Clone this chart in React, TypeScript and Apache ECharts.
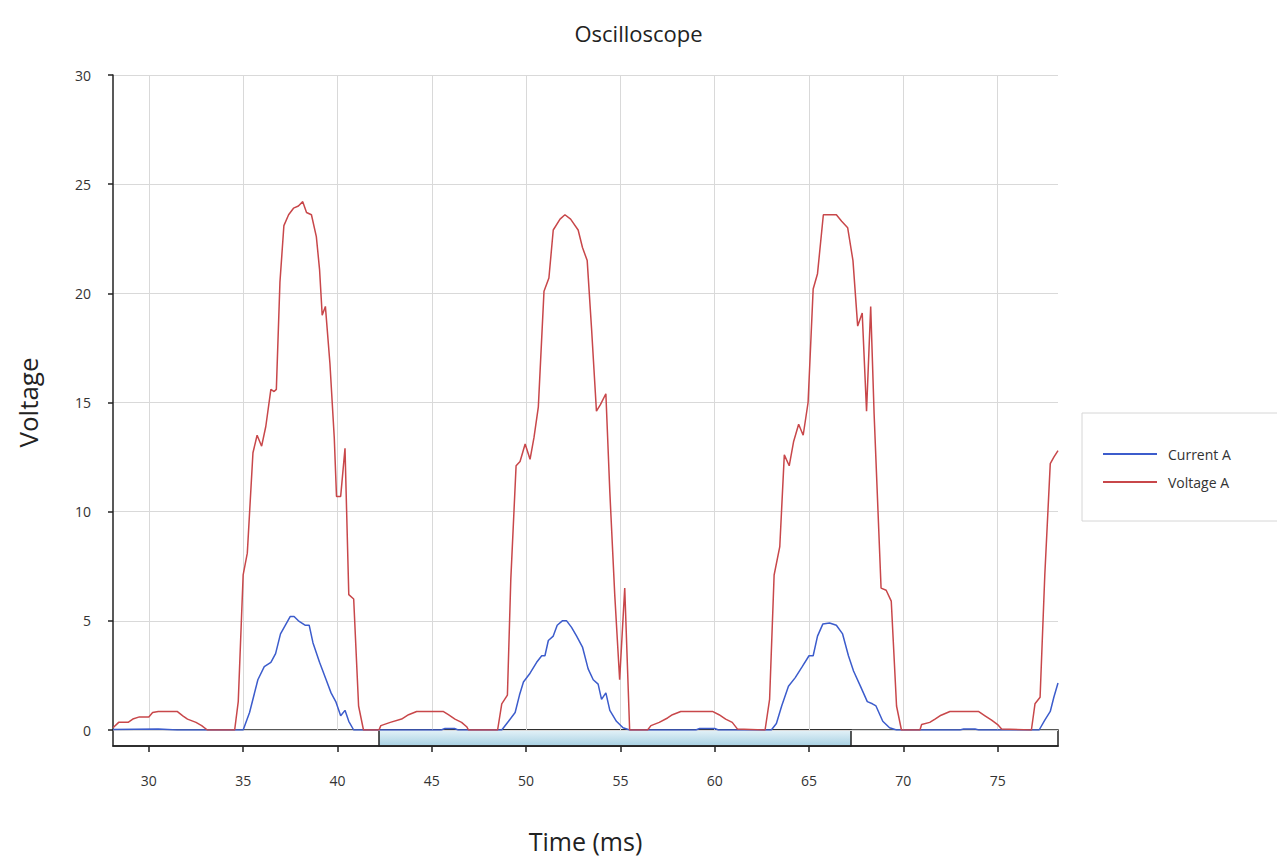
import React, { useEffect, useRef } from "react";
import * as echarts from "echarts";

// Time (ms) / value pairs
const voltageTime = [
  28.1, 28.4, 28.9, 29.15, 29.5, 30.0, 30.2, 30.5, 31.5, 31.8, 32.05, 32.5, 32.8, 33.1,
  34.55, 34.74, 35.0, 35.22, 35.52, 35.74, 35.98, 36.2, 36.47, 36.64, 36.76, 36.95, 37.16, 37.41,
  37.67, 37.93, 38.16, 38.36, 38.62, 38.88, 39.05, 39.19, 39.36, 39.6, 39.83, 39.95, 40.17, 40.4,
  40.6, 40.86, 41.12, 41.38,
  42.2, 42.3, 42.8, 43.4, 43.77, 44.2, 45.6, 45.88, 46.23, 46.58, 46.85, 46.95,
  48.49, 48.71, 49.01, 49.19, 49.47, 49.68, 49.95, 50.21, 50.42, 50.65, 50.95, 51.21, 51.44, 51.8,
  52.06, 52.36, 52.76, 52.99, 53.24, 53.47, 53.73, 53.94, 54.23, 54.44, 54.7, 54.96, 55.23, 55.49,
  56.44, 56.62, 57.06, 57.5, 57.76, 58.2, 59.88, 60.23, 60.58, 60.93, 61.2,
  62.67, 62.91, 63.15, 63.45, 63.69, 63.95, 64.18, 64.45, 64.69, 64.95, 65.22, 65.45, 65.76, 66.45,
  66.73, 67.05, 67.33, 67.58, 67.82, 68.05, 68.27, 68.45, 68.82, 69.09, 69.36, 69.64, 69.9,
  70.88, 70.97, 71.4, 71.68, 71.94, 72.47, 73.98, 74.33, 74.68, 75.0, 75.21,
  76.79, 76.98, 77.25, 77.5, 77.79, 77.98, 78.2,
];
const voltageValue = [
  0.1, 0.35, 0.35, 0.5, 0.6, 0.6, 0.8, 0.85, 0.85, 0.65, 0.5, 0.35, 0.2, 0.0,
  0.0, 1.3, 7.1, 8.1, 12.7, 13.5, 13.0, 13.9, 15.6, 15.5, 15.6, 20.5, 23.1, 23.6,
  23.9, 24.0, 24.2, 23.7, 23.6, 22.6, 21.1, 19.0, 19.4, 16.8, 13.4, 10.7, 10.7, 12.9,
  6.2, 6.0, 1.1, 0.0,
  0.0, 0.2, 0.35, 0.5, 0.7, 0.85, 0.85, 0.7, 0.5, 0.35, 0.15, 0.0,
  0.0, 1.2, 1.6, 6.9, 12.1, 12.3, 13.1, 12.4, 13.4, 14.8, 20.1, 20.7, 22.9, 23.4,
  23.6, 23.4, 22.9, 22.1, 21.5, 18.4, 14.6, 14.9, 15.4, 10.9, 6.2, 2.3, 6.5, 0.0,
  0.0, 0.2, 0.35, 0.55, 0.7, 0.85, 0.85, 0.7, 0.5, 0.35, 0.05,
  0.0, 1.4, 7.1, 8.4, 12.6, 12.1, 13.2, 14.0, 13.5, 15.0, 20.2, 20.9, 23.6, 23.6,
  23.3, 23.0, 21.5, 18.5, 19.1, 14.6, 19.4, 14.5, 6.5, 6.4, 5.9, 1.1, 0.0,
  0.0, 0.25, 0.35, 0.5, 0.65, 0.85, 0.85, 0.65, 0.45, 0.25, 0.05,
  0.0, 1.2, 1.5, 7.1, 12.2, 12.5, 12.8,
];

const currentTime = [
  28.1, 30.5, 31.5,
  35.0, 35.34, 35.78, 36.12, 36.47, 36.72, 36.98, 37.24, 37.5, 37.7, 37.93, 38.28, 38.5, 38.7,
  39.05, 39.4, 39.66, 39.91, 40.17, 40.4, 40.6, 40.86,
  45.5, 45.7, 46.2, 46.4,
  48.71, 49.07, 49.42, 49.65, 49.86, 50.21, 50.56, 50.83, 51.0, 51.18, 51.44, 51.65, 51.92, 52.15,
  52.41, 52.68, 52.99, 53.29, 53.56, 53.82, 54.0, 54.23, 54.44, 54.79, 55.14, 55.49,
  59.0, 59.2, 60.0, 60.2,
  63.0, 63.27, 63.55, 63.91, 64.27, 64.64, 65.0, 65.22, 65.45, 65.73, 66.09, 66.45, 66.78, 67.09,
  67.36, 67.73, 68.09, 68.36, 68.55, 68.91, 69.27, 69.64,
  73.0, 73.2, 73.8, 74.0,
  77.2, 77.5, 77.79, 77.98, 78.2,
];
const currentValue = [
  0.02, 0.05, 0.0,
  0.0, 0.8, 2.3, 2.9, 3.1, 3.5, 4.4, 4.8, 5.2, 5.2, 5.0, 4.8, 4.8, 4.0,
  3.1, 2.3, 1.7, 1.3, 0.65, 0.9, 0.4, 0.0,
  0.0, 0.07, 0.07, 0.0,
  0.0, 0.4, 0.8, 1.6, 2.2, 2.6, 3.1, 3.4, 3.4, 4.1, 4.3, 4.8, 5.0, 5.0,
  4.7, 4.3, 3.8, 2.8, 2.3, 2.1, 1.4, 1.7, 0.9, 0.4, 0.1, 0.0,
  0.0, 0.07, 0.07, 0.0,
  0.0, 0.3, 1.1, 2.0, 2.4, 2.9, 3.4, 3.4, 4.3, 4.85, 4.9, 4.8, 4.4, 3.4,
  2.7, 2.0, 1.3, 1.2, 1.1, 0.4, 0.1, 0.0,
  0.0, 0.05, 0.05, 0.0,
  0.0, 0.45, 0.85, 1.5, 2.15,
];

const xTickValues = [30, 35, 40, 45, 50, 55, 60, 65, 70, 75];
const seriesNames = ["Current A", "Voltage A"];

export default function App() {
  const ref = useRef<HTMLDivElement>(null);

  useEffect(() => {
    if (!ref.current) return;
    const chart = echarts.init(ref.current, null, { renderer: "svg" });
    const font = "'Open Sans', 'Noto Sans', sans-serif";
    const blue = "#3c5ccc";
    const red = "#c8474a";
    const current = currentTime.map((t, i) => [t, currentValue[i]]);
    const voltage = voltageTime.map((t, i) => [t, voltageValue[i]]);

    chart.setOption({
      animation: false,
      backgroundColor: "#ffffff",
      textStyle: { fontFamily: font },
      title: {
        text: "Oscilloscope",
        left: "center",
        top: 17,
        textStyle: { fontFamily: font, fontSize: 22, fontWeight: "normal", color: "#222" },
      },
      legend: {
        orient: "vertical",
        left: 1098,
        top: 441,
        itemWidth: 54,
        itemHeight: 2,
        itemGap: 12,
        icon: "rect",
        data: seriesNames,
        textStyle: { fontFamily: font, fontSize: 14, color: "#333", lineHeight: 16, padding: [0, 0, 0, 6] },
      },
      grid: { left: 113, right: 219, top: 75, bottom: 132, containLabel: false },
      xAxis: {
        type: "value",
        min: 28.1,
        max: 78.2,
        splitNumber: 10,
        offset: 16,
        name: "Time (ms)",
        nameLocation: "middle",
        nameGap: 82,
        nameTextStyle: { fontFamily: font, fontSize: 25, color: "#222" },
        axisLine: { show: true, onZero: false, lineStyle: { color: "#222", width: 1.5 } },
        axisTick: { show: true, length: 6, customValues: xTickValues, lineStyle: { color: "#222", width: 1.5 } },
        axisLabel: { customValues: xTickValues, margin: 27, fontFamily: font, fontSize: 14, color: "#333" },
        splitLine: { show: true, lineStyle: { color: "#d9d9d9", width: 1 } },
      },
      yAxis: {
        type: "value",
        min: 0,
        max: 30,
        interval: 5,
        name: "Voltage",
        nameLocation: "middle",
        nameGap: 72,
        nameTextStyle: { fontFamily: font, fontSize: 26, color: "#222" },
        axisLine: { show: true, lineStyle: { color: "#222", width: 1.5 } },
        axisTick: { show: true, length: 5, lineStyle: { color: "#222", width: 1.5 } },
        axisLabel: { margin: 22, fontFamily: font, fontSize: 14, color: "#333" },
        splitLine: { show: true, lineStyle: { color: "#d9d9d9", width: 1 } },
      },
      graphic: [
        {
          type: "rect",
          z: 0,
          shape: { x: 113, y: 730, width: 945, height: 16 },
          style: { fill: "#ffffff", stroke: "#222", lineWidth: 1.5 },
        },
        {
          type: "rect",
          z: 0,
          shape: { x: 379, y: 730, width: 472, height: 16 },
          style: {
            fill: new echarts.graphic.LinearGradient(0, 0, 0, 1, [
              { offset: 0, color: "#e4f2f8" },
              { offset: 1, color: "#a8d1e3" },
            ]),
            stroke: "#222",
            lineWidth: 1.5,
          },
        },
        {
          type: "rect",
          z: 0,
          shape: { x: 1082, y: 413, width: 220, height: 108 },
          style: { fill: "none", stroke: "#d6d6d6", lineWidth: 1 },
        },
      ],
      series: [
        {
          name: seriesNames[0],
          type: "line",
          data: current,
          symbol: "none",
          showSymbol: false,
          lineStyle: { color: blue, width: 1.5 },
          itemStyle: { color: blue },
        },
        {
          name: seriesNames[1],
          type: "line",
          data: voltage,
          symbol: "none",
          showSymbol: false,
          lineStyle: { color: red, width: 1.5 },
          itemStyle: { color: red },
        },
      ],
    });

    return () => chart.dispose();
  }, []);

  return (
    <div
      ref={ref}
      style={{ position: "absolute", left: 0, top: 0, width: 1277, height: 862 }}
    />
  );
}
